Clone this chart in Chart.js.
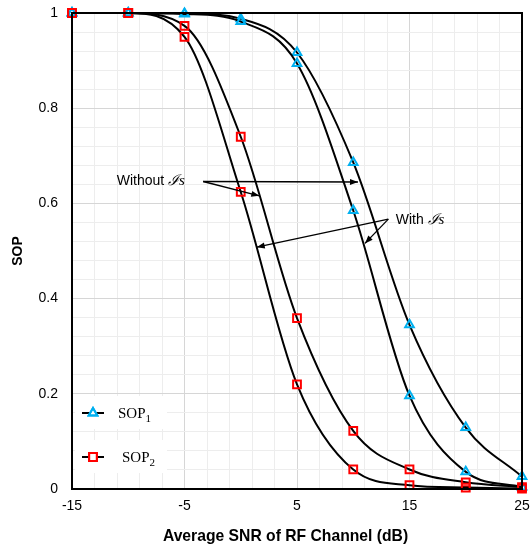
<!DOCTYPE html>
<html>
<head>
<meta charset="utf-8">
<script src="https://cdn.jsdelivr.net/npm/chart.js@4.4.0/dist/chart.umd.min.js"></script>
<style>
  html, body { margin: 0; padding: 0; background: #fff; }
  #wrap { width: 530px; height: 548px; }
</style>
</head>
<body>
<div id="wrap"><canvas id="sopChart"></canvas></div>
<script>
// values
const snr = [-15, -10, -5, 0, 5, 10, 15, 20, 25];
const sop1Without = [1, 1, 0.999, 0.988, 0.917, 0.686, 0.345, 0.129, 0.026];
const sop1With    = [1, 1, 0.998, 0.982, 0.894, 0.585, 0.196, 0.036, 0.004];
const sop2Without = [1, 1, 0.973, 0.740, 0.359, 0.122, 0.041, 0.014, 0.004];
const sop2With    = [1, 1, 0.950, 0.624, 0.220, 0.041, 0.008, 0.003, 0.001];

const xTickLabels = [-15, -5, 5, 15, 25];
const yTickLabels = [0, 0.2, 0.4, 0.6, 0.8, 1];
const xTitle = "Average SNR of RF Channel (dB)";

// annotation text and arrows, in data units
const notes = [
  { text: "Without ", at: [-11.03, 0.647], from: [-3.34, 0.646], to: [[10.42, 0.645], [1.65, 0.616]] },
  { text: "With ", at: [13.77, 0.565], from: [13.12, 0.567], to: [[1.42, 0.508], [11.04, 0.516]] }
];

const BLUE = "#00b0f0";
const RED = "#ff0000";
const MAJOR = "#d6d6d6";
const MINOR = "#ededed";

function pts(arr) {
  return snr.map((x, i) => ({ x: x, y: arr[i] }));
}

function curve(arr, style, color) {
  return {
    data: pts(arr),
    borderColor: "#000",
    borderWidth: 2,
    cubicInterpolationMode: "monotone",
    pointStyle: style,
    pointRadius: style === "rect" ? 5.5 : 5,
    pointBorderColor: color,
    pointBackgroundColor: "rgba(0,0,0,0)",
    pointBorderWidth: 2,
    clip: 8
  };
}

const isMajorY = v => yTickLabels.some(t => Math.abs(t - v) < 1e-6);

const frameAndNotes = {
  id: "frameAndNotes",
  afterDatasetsDraw(chart) {
    const ctx = chart.ctx;
    const xs = chart.scales.x, ys = chart.scales.y;
    const area = chart.chartArea;
    const px = p => [xs.getPixelForValue(p[0]), ys.getPixelForValue(p[1])];

    ctx.save();
    // arrows
    ctx.strokeStyle = "#000";
    ctx.fillStyle = "#000";
    ctx.lineWidth = 1.3;
    notes.forEach(n => {
      const [sx, sy] = px(n.from);
      n.to.forEach(t => {
        const [ex, ey] = px(t);
        ctx.beginPath();
        ctx.moveTo(sx, sy);
        ctx.lineTo(ex, ey);
        ctx.stroke();
        const a = Math.atan2(ey - sy, ex - sx);
        const L = 8, W = 3;
        ctx.beginPath();
        ctx.moveTo(ex, ey);
        ctx.lineTo(ex - L * Math.cos(a) + W * Math.sin(a), ey - L * Math.sin(a) - W * Math.cos(a));
        ctx.lineTo(ex - L * Math.cos(a) - W * Math.sin(a), ey - L * Math.sin(a) + W * Math.cos(a));
        ctx.closePath();
        ctx.fill();
      });
      // label
      const [tx, ty] = px(n.at);
      ctx.textBaseline = "middle";
      ctx.textAlign = "left";
      ctx.font = "14px 'Liberation Sans', Arial, sans-serif";
      ctx.fillText(n.text, tx, ty);
      let w = ctx.measureText(n.text).width;
      ctx.font = "italic 15px 'DejaVu Serif', serif";
      ctx.fillText("\u2110", tx + w, ty);
      w += ctx.measureText("\u2110").width;
      ctx.font = "italic 15px 'Liberation Serif', serif";
      ctx.fillText("s", tx + w, ty);
    });

    // legend
    const items = [
      { name: "SOP", sub: "1", style: "triangle", color: BLUE, radius: 5, y: 413, tx: 118 },
      { name: "SOP", sub: "2", style: "rect", color: RED, radius: 5.5, y: 457, tx: 122 }
    ];
    items.forEach(it => {
      ctx.fillStyle = "#fff";
      ctx.fillRect(area.left + 3, it.y - 17, 92, 33);
      ctx.strokeStyle = "#000";
      ctx.lineWidth = 2;
      ctx.beginPath();
      ctx.moveTo(82, it.y);
      ctx.lineTo(104, it.y);
      ctx.stroke();
      ctx.strokeStyle = it.color;
      ctx.lineWidth = 2;
      Chart.helpers.drawPoint(ctx, { pointStyle: it.style, radius: it.radius, rotation: 0, borderWidth: 2 }, 93, it.y);
      ctx.stroke();
      ctx.fillStyle = "#000";
      ctx.textBaseline = "alphabetic";
      ctx.font = "15px 'Liberation Serif', 'DejaVu Serif', serif";
      ctx.fillText(it.name, it.tx, it.y + 5);
      const w = ctx.measureText(it.name).width;
      ctx.font = "11px 'Liberation Serif', 'DejaVu Serif', serif";
      ctx.fillText(it.sub, it.tx + w, it.y + 9);
    });

    // plot frame
    ctx.strokeStyle = "#000";
    ctx.lineWidth = 2;
    ctx.strokeRect(area.left, area.top, area.right - area.left, area.bottom - area.top);

    // x axis title (sits a little left of the plot centre in the source)
    ctx.fillStyle = "#000";
    ctx.textAlign = "center";
    ctx.textBaseline = "middle";
    ctx.font = "bold 15.7px 'Liberation Sans', Arial, sans-serif";
    ctx.fillText(xTitle, 285.5, 537);
    ctx.restore();
  }
};

new Chart(document.getElementById("sopChart"), {
  type: "line",
  data: {
    datasets: [
      curve(sop2With, "rect", RED),
      curve(sop2Without, "rect", RED),
      curve(sop1With, "triangle", BLUE),
      curve(sop1Without, "triangle", BLUE)
    ]
  },
  options: {
    responsive: true,
    maintainAspectRatio: false,
    animation: false,
    layout: { padding: { top: 13, right: 8, left: 0, bottom: 0 } },
    plugins: { legend: { display: false }, tooltip: { enabled: false } },
    scales: {
      x: {
        type: "linear",
        min: -15,
        max: 25,
        afterBuildTicks: s => {
          const t = [];
          for (let v = -15; v <= 25; v += 2) t.push({ value: v });
          s.ticks = t;
        },
        afterFit: s => {
          s.height = 59;
          s.paddingLeft = 0;
          s.paddingRight = 0;
        },
        grid: {
          drawTicks: false,
          color: c => xTickLabels.includes(c.tick.value) ? MAJOR : MINOR
        },
        border: { display: false },
        ticks: {
          autoSkip: false,
          maxRotation: 0,
          padding: 9,
          color: "#000",
          font: { family: "'Liberation Sans', Arial, sans-serif", size: 14 },
          callback: v => xTickLabels.includes(v) ? String(v) : ""
        }
      },
      y: {
        min: 0,
        max: 1,
        afterBuildTicks: s => {
          const t = [];
          for (let i = 0; i <= 25; i++) t.push({ value: Math.round(i * 4) / 100 });
          s.ticks = t;
        },
        afterFit: s => {
          s.width = 72;
          s.paddingTop = 0;
          s.paddingBottom = 0;
        },
        grid: {
          drawTicks: false,
          color: c => isMajorY(c.tick.value) ? MAJOR : MINOR
        },
        border: { display: false },
        ticks: {
          autoSkip: false,
          padding: 14,
          color: "#000",
          font: { family: "'Liberation Sans', Arial, sans-serif", size: 14 },
          callback: v => isMajorY(v) ? String(Math.round(v * 10) / 10) : ""
        },
        title: {
          display: true,
          text: "SOP",
          color: "#000",
          font: { family: "'Liberation Sans', Arial, sans-serif", size: 14, weight: "bold" },
          padding: { top: 10, bottom: 4 }
        }
      }
    }
  },
  plugins: [frameAndNotes]
});
</script>
</body>
</html>
